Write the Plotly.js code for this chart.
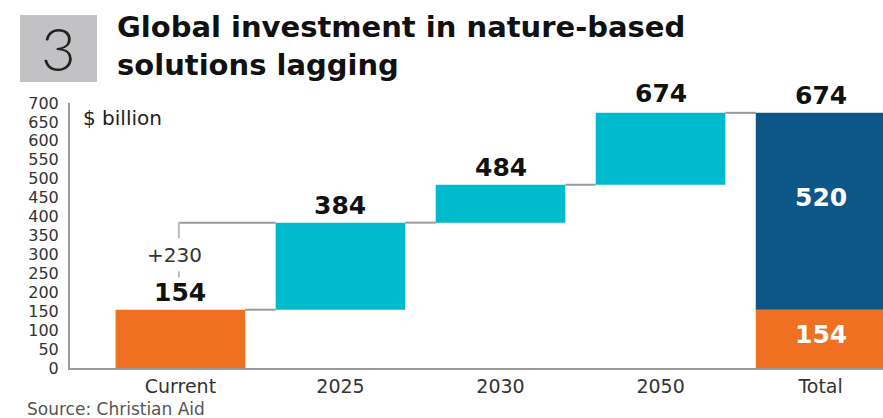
<!DOCTYPE html>
<html>
<head>
<meta charset="utf-8">
<script src="https://cdn.plot.ly/plotly-3.0.1.min.js"></script>
<style>html,body{margin:0;padding:0;background:#fff;}#chart{width:883px;height:418px;}</style>
</head>
<body>
<div id="chart"></div>
<script>
// ---- data ----
const categories = ["Current", "2025", "2030", "2050", "Total"];
const currentValue = 154;
const stepCats = ["2025", "2030", "2050"];
const stepTotals = [384, 484, 674];
const totalBase = 154;
const totalAdded = 520;
const totalValue = 674;
const yTicks = [0,50,100,150,200,250,300,350,400,450,500,550,600,650,700];

// ---- derived ----
const stepBases = [currentValue].concat(stepTotals.slice(0, -1));
const stepIncr = stepTotals.map((v, i) => v - stepBases[i]);
const W = 0.81;
const catIdx = c => categories.indexOf(c);

const ORANGE = "#F07022", TEAL = "#00BACD", BLUE = "#0C5788";

const traces = [
  {type: "bar", x: ["Current", "Total"].map(catIdx), y: [currentValue, totalBase], base: [0, 0],
   marker: {color: ORANGE}, width: W, hoverinfo: "none"},
  {type: "bar", x: stepCats.map(catIdx), y: stepIncr, base: stepBases,
   marker: {color: TEAL}, width: W, hoverinfo: "none"},
  {type: "bar", x: [catIdx("Total")], y: [totalAdded], base: [totalBase],
   marker: {color: BLUE}, width: W, hoverinfo: "none"}
];

const SANS = "DejaVu Sans, Arial";
const valFont = {family: SANS, size: 25, color: "#111", weight: 700};
const whiteFont = {family: SANS, size: 25, color: "#fff", weight: 700};
const annotations = [];
annotations.push({x: catIdx("Current"), y: currentValue, text: String(currentValue), showarrow: false,
  yanchor: "bottom", yshift: 1, font: valFont});
stepCats.forEach((c, i) => annotations.push({x: catIdx(c), y: stepTotals[i], text: String(stepTotals[i]),
  showarrow: false, yanchor: "bottom", yshift: i === stepCats.length - 1 ? 3 : 1, font: valFont}));
annotations.push({x: catIdx("Total"), y: totalValue, text: String(totalValue), showarrow: false,
  yanchor: "bottom", yshift: 1, font: valFont});
annotations.push({x: catIdx("Total"), y: totalBase + totalAdded * 0.57, text: String(totalAdded), showarrow: false,
  font: whiteFont});
annotations.push({x: catIdx("Total"), y: totalBase * 0.58, text: String(totalBase), showarrow: false,
  font: whiteFont});
// +230 label
const firstIncr = stepTotals[0] - currentValue;
annotations.push({x: catIdx("Current"), y: currentValue + firstIncr * 0.63, text: "+" + firstIncr, showarrow: false,
  xshift: -6, font: {family: SANS, size: 20, color: "#333"}});
// $ billion
annotations.push({xref: "paper", yref: "paper", x: 0.013, y: 0.995, xanchor: "left", yanchor: "top",
  text: "$ billion", showarrow: false, font: {family: SANS, size: 20, color: "#222"}});
// source
annotations.push({xref: "paper", yref: "paper", x: -0.0553, y: -0.153, xanchor: "left", yanchor: "middle",
  text: "Source: Christian Aid", showarrow: false, font: {family: SANS, size: 17, color: "#555"}});
// box number
annotations.push({xref: "paper", yref: "paper", x: -0.0145, y: 1.2075, xanchor: "center", yanchor: "middle",
  text: "3", showarrow: false, font: {family: "Lato, Arial", size: 60, color: "#222", weight: 300}});
// title lines
const titleFont = {family: SANS, size: 29, color: "#111", weight: 700};
annotations.push({xref: "paper", yref: "paper", x: 0.0554, y: 1.287, xanchor: "left", yanchor: "middle",
  text: "Global investment in nature-based", showarrow: false, font: titleFont});
annotations.push({xref: "paper", yref: "paper", x: 0.0554, y: 1.143, xanchor: "left", yanchor: "middle",
  text: "solutions lagging", showarrow: false, font: titleFont});

const GRAY = "#9a9a9a";
const shapes = [];
shapes.push({type: "line", xref: "x", yref: "y", x0: catIdx("Current") + W/2, x1: catIdx("2025") - W/2,
  y0: currentValue, y1: currentValue, line: {color: GRAY, width: 2}, layer: "below"});
shapes.push({type: "line", xref: "x", yref: "y", x0: catIdx("Current") - 0.01, x1: catIdx("2025") - W/2,
  y0: stepTotals[0], y1: stepTotals[0], line: {color: GRAY, width: 2}, layer: "below"});
shapes.push({type: "line", xref: "x", yref: "y", x0: catIdx("Current") - 0.01, x1: catIdx("Current") - 0.01,
  y0: stepTotals[0], y1: currentValue + firstIncr * 0.82, line: {color: "#bbb", width: 2}, layer: "below"});
shapes.push({type: "line", xref: "x", yref: "y", x0: catIdx("Current") - 0.01, x1: catIdx("Current") - 0.01,
  y0: currentValue + firstIncr * 0.44, y1: currentValue + firstIncr * 0.37, line: {color: "#bbb", width: 2}, layer: "below"});
for (let i = 1; i < stepCats.length; i++) {
  shapes.push({type: "line", xref: "x", yref: "y", x0: catIdx(stepCats[i-1]) + W/2, x1: catIdx(stepCats[i]) - W/2,
    y0: stepBases[i], y1: stepBases[i], line: {color: GRAY, width: 2}, layer: "below"});
}
shapes.push({type: "line", xref: "x", yref: "y", x0: catIdx("2050") + W/2, x1: catIdx("Total") - W/2,
  y0: totalValue, y1: totalValue, line: {color: GRAY, width: 2}, layer: "below"});
shapes.push({type: "rect", xref: "paper", yref: "paper", x0: -0.0615, x1: 0.0332, y0: 1.079, y1: 1.332,
  fillcolor: "#C2C2C4", line: {width: 0}, layer: "below"});

const layout = {
  width: 883, height: 418,
  margin: {l: 70, r: 0, t: 103, b: 50},
  paper_bgcolor: "#fff", plot_bgcolor: "#fff",
  barmode: "overlay",
  showlegend: false,
  xaxis: {range: [-0.69, 4.39], tickvals: categories.map((c, i) => i), ticktext: categories,
    showline: true, linecolor: GRAY, linewidth: 2, showgrid: false, zeroline: false, ticks: "",
    tickfont: {family: SANS, size: 19, color: "#333"}, fixedrange: true},
  yaxis: {range: [0, 700], tickvals: yTicks, ticktext: yTicks.map(String), showline: true, linecolor: GRAY, linewidth: 2,
    showgrid: false, zeroline: false, ticks: "", ticklabelstandoff: 6,
    tickfont: {family: SANS, size: 16, color: "#333"}, fixedrange: true},
  annotations: annotations,
  shapes: shapes
};

Plotly.newPlot("chart", traces, layout, {displayModeBar: false, staticPlot: true});
</script>
</body>
</html>
